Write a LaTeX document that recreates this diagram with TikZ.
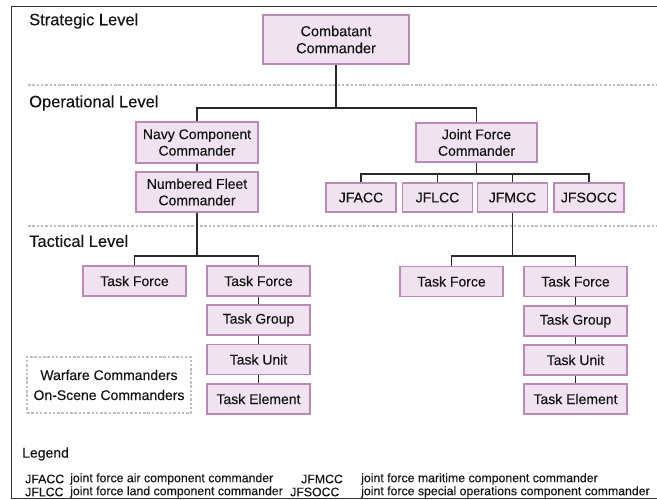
\documentclass[tikz,border=0pt]{standalone}
\usepackage{fontspec}
\setmainfont{Liberation Sans}[UprightFeatures={FakeBold=0.25}]
\begin{document}
\begin{tikzpicture}[x=1pt,y=-1pt,
  cmdbox/.style={draw=boxline, fill=boxfill, line width=1.2pt, align=center,
    inner sep=0pt, font=\fontsize{14}{16.5}\selectfont, text=ink},
  wide/.style={cmdbox, minimum width=122pt, minimum height=40pt},
  abbr/.style={cmdbox, minimum width=70pt, minimum height=29pt},
  task/.style={cmdbox, minimum width=103pt, minimum height=30pt},
  link/.style={draw=linkcol, line width=1.6pt},
  levelsep/.style={draw=sepcol, line width=1.3pt, dash pattern=on 2.5pt off 1.8pt},
  heading/.style={anchor=west, inner sep=0pt, text=ink, font=\fontsize{16.5}{18}\selectfont},
  legtext/.style={anchor=west, inner sep=0pt, text=ink, font=\fontsize{12.3}{13}\selectfont}]
\definecolor{boxfill}{RGB}{240,226,240}
\definecolor{boxline}{RGB}{184,138,180}
\definecolor{linkcol}{RGB}{40,40,40}
\definecolor{sepcol}{RGB}{190,190,190}
\definecolor{ink}{RGB}{20,20,20}
\definecolor{framecol}{RGB}{50,50,50}

\fill[white] (0,0) rectangle (657,500);
\useasboundingbox (0,0) rectangle (657,500);

% outer frame
\draw[framecol, line width=1.8pt] (658,6.5) -- (11.5,6.5) -- (11.5,498.5) -- (658,498.5);

% level separators
\draw[levelsep] (28,85) -- (657,85);
\draw[levelsep] (28,226) -- (657,226);

% level headings
\node[heading] (hstrat) at (29,21) {Strategic Level};
\node[heading] (hoper) at (29,103) {Operational Level};
\node[heading] (htact) at (29,241) {Tactical Level};

% strategic and operational commanders
\node[cmdbox, minimum width=146pt, minimum height=49pt, font=\fontsize{14.5}{17}\selectfont] (cc) at (336,39.5) {Combatant\\Commander};
\node[wide, minimum height=41pt] (ncc) at (197,142.5) {Navy Component\\Commander};
\node[wide] (nfc) at (197,192) {Numbered Fleet\\Commander};
\node[wide, minimum width=121pt, minimum height=39pt] (jfc) at (476.5,142.5) {Joint Force\\Commander};
\node[abbr] (jfacc) at (361,197.5) {JFACC};
\node[abbr] (jflcc) at (437.5,197.5) {JFLCC};
\node[abbr] (jfmcc) at (512.5,197.5) {JFMCC};
\node[abbr] (jfsocc) at (589,197.5) {JFSOCC};

% tactical chain under the numbered fleet
\node[task] (tfa) at (134.5,281) {Task Force};
\node[task] (tfb) at (258.5,281) {Task Force};
\node[task] (tgb) at (258.5,320) {Task Group};
\node[task] (tub) at (258.5,359.5) {Task Unit};
\node[task] (teb) at (258.5,399) {Task Element};

% tactical chain under the JFMCC
\node[task] (tfc) at (451.5,281.5) {Task Force};
\node[task] (tfd) at (575.5,281.5) {Task Force};
\node[task] (tgd) at (575.5,321) {Task Group};
\node[task] (tud) at (575.5,360) {Task Unit};
\node[task] (ted) at (575.5,399) {Task Element};

% warfare / on-scene commanders
\node[draw=sepcol, line width=1.3pt, dash pattern=on 2.5pt off 1.8pt, minimum width=164pt,
  minimum height=56pt, align=center, inner sep=0pt, text=ink,
  font=\fontsize{14}{20}\selectfont] (wc) at (109,385) {Warfare Commanders\\On-Scene Commanders};

% bus points
\coordinate (opbus) at (336,108);
\coordinate (jbus) at (476.5,174);
\coordinate (lbus) at (197,256);
\coordinate (rbus) at (512.5,256);

% connectors
\draw[link] (cc.south) -- (opbus);
\draw[link] (ncc.north) |- (opbus) -| (jfc.north);
\draw[link] (ncc.south) -- (nfc.north);
\draw[link] (jfc.south) -- (jbus);
\draw[link] (jfacc.north) |- (jbus) -| (jfsocc.north);
\draw[link] (jflcc.north) |- (jbus);
\draw[link] (jfmcc.north) |- (jbus);
\draw[link] (nfc.south) -- (lbus);
\draw[link] (tfa.north) |- (lbus) -| (tfb.north);
\draw[link] (tfb.south) -- (tgb.north);
\draw[link] (tgb.south) -- (tub.north);
\draw[link] (tub.south) -- (teb.north);
\draw[link] (jfmcc.south) -- (rbus);
\draw[link] (tfc.north) |- (rbus) -| (tfd.north);
\draw[link] (tfd.south) -- (tgd.north);
\draw[link] (tgd.south) -- (tud.north);
\draw[link] (tud.south) -- (ted.north);

% legend
\node[anchor=west, inner sep=0pt, text=ink, font=\fontsize{14}{16}\selectfont] (leg) at (22,454) {Legend};
\node[legtext] (la1) at (25,479) {JFACC};
\node[legtext] (ld1) at (70,479) {joint force air component commander};
\node[legtext] (la2) at (25,492) {JFLCC};
\node[legtext] (ld2) at (70,492) {joint force land component commander};
\node[legtext] (la3) at (301,479) {JFMCC};
\node[legtext] (ld3) at (361,479) {joint force maritime component commander};
\node[legtext] (la4) at (290,492) {JFSOCC};
\node[legtext] (ld4) at (361,492) {joint force special operations component commander};
\end{tikzpicture}
\end{document}
